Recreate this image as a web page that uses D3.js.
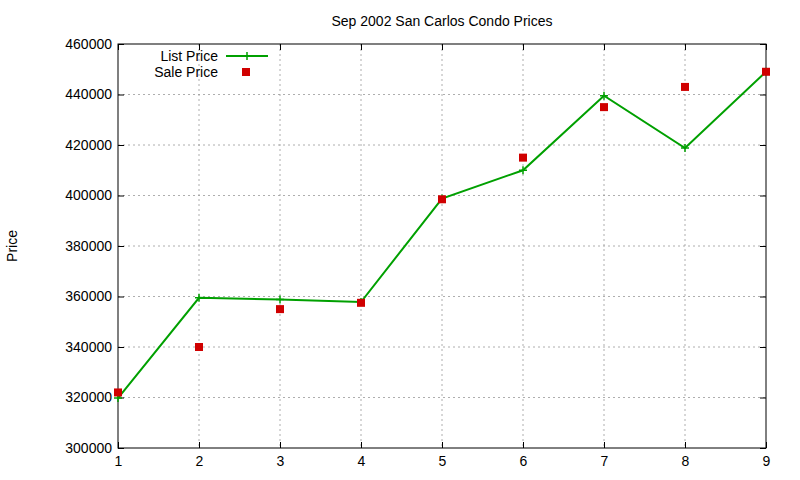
<!DOCTYPE html>
<html>
<head>
<meta charset="utf-8">
<script src="https://cdn.jsdelivr.net/npm/d3@7"></script>
<style>
body { margin: 0; background: #fff; }
text { font-family: "Liberation Sans", Arial, sans-serif; }
</style>
</head>
<body>
<svg id="chart" width="800" height="480"></svg>
<script>
var months = [1, 2, 3, 4, 5, 6, 7, 8, 9];
var listPrice = [319800, 359500, 358800, 357800, 398800, 410000, 439500, 418800, 449000];
var salePrice = [322000, 340000, 355000, 357500, 398500, 415000, 435000, 443000, 449000];
var yTicks = [300000, 320000, 340000, 360000, 380000, 400000, 420000, 440000, 460000];

var svg = d3.select("#chart");
var pLeft = 118, pRight = 766, pTop = 44, pBottom = 448;

var x = d3.scaleLinear().domain([1, 9]).range([pLeft, pRight]);
var y = d3.scaleLinear().domain([300000, 460000]).range([pBottom, pTop]);

// grid
var grid = svg.append("g");
grid.selectAll(".gx").data(months.slice(1, -1)).enter().append("line")
	.attr("x1", function(d) { return x(d); }).attr("x2", function(d) { return x(d); })
	.attr("y1", pTop).attr("y2", pBottom)
	.attr("stroke", "#999").attr("stroke-dasharray", "2,3").attr("stroke-width", 0.8);
grid.selectAll(".gy").data(yTicks.slice(1, -1)).enter().append("line")
	.attr("y1", function(d) { return y(d); }).attr("y2", function(d) { return y(d); })
	.attr("x1", pLeft).attr("x2", pRight)
	.attr("stroke", "#999").attr("stroke-dasharray", "2,3").attr("stroke-width", 0.8);

// axes
var xAxis = svg.append("g").attr("transform", "translate(0," + pBottom + ")")
	.call(d3.axisBottom(x).tickValues(months).tickFormat(d3.format("d")).tickSizeInner(-6).tickSizeOuter(0).tickPadding(8));
var xTop = svg.append("g").attr("transform", "translate(0," + pTop + ")")
	.call(d3.axisTop(x).tickValues(months).tickFormat("").tickSizeInner(-6).tickSizeOuter(0));
var yAxis = svg.append("g").attr("transform", "translate(" + pLeft + ",0)")
	.call(d3.axisLeft(y).tickValues(yTicks).tickFormat(d3.format("d")).tickSizeInner(-6).tickSizeOuter(0).tickPadding(6));
var yRight = svg.append("g").attr("transform", "translate(" + pRight + ",0)")
	.call(d3.axisRight(y).tickValues(yTicks).tickFormat("").tickSizeInner(-6).tickSizeOuter(0));
[xAxis, xTop, yAxis, yRight].forEach(function(a) {
	a.selectAll("text").attr("font-size", 14).attr("fill", "#000");
	a.selectAll("line").attr("stroke", "#000");
	a.select(".domain").remove();
});
svg.append("rect").attr("x", pLeft).attr("y", pTop).attr("width", pRight - pLeft).attr("height", pBottom - pTop)
	.attr("fill", "none").attr("stroke", "#000");

// title and label
svg.append("text").attr("x", 442).attr("y", 26).attr("text-anchor", "middle").attr("font-size", 14).text("Sep 2002 San Carlos Condo Prices");
svg.append("text").attr("transform", "translate(17,246) rotate(-90)").attr("text-anchor", "middle").attr("font-size", 14).text("Price");

// list price line
var green = "#00a000", red = "#d00000";
svg.append("path").datum(months)
	.attr("d", d3.line().x(function(d) { return x(d); }).y(function(d, i) { return y(listPrice[i]); }))
	.attr("fill", "none").attr("stroke", green).attr("stroke-width", 2);
svg.selectAll(".lp").data(months).enter().append("path")
	.attr("d", "M-4,0H4M0,-4V4")
	.attr("transform", function(d, i) { return "translate(" + x(d) + "," + y(listPrice[i]) + ")"; })
	.attr("stroke", green).attr("stroke-width", 1.5);

// sale price points
svg.selectAll(".sp").data(months).enter().append("rect")
	.attr("x", function(d) { return x(d) - 4; })
	.attr("y", function(d, i) { return y(salePrice[i]) - 4; })
	.attr("width", 8).attr("height", 8).attr("fill", red);

// legend
svg.append("text").attr("x", 218).attr("y", 61).attr("text-anchor", "end").attr("font-size", 14).text("List Price");
svg.append("line").attr("x1", 226).attr("x2", 268).attr("y1", 56).attr("y2", 56).attr("stroke", green).attr("stroke-width", 2);
svg.append("path").attr("d", "M-4,0H4M0,-4V4").attr("transform", "translate(247,56)").attr("stroke", green).attr("stroke-width", 1.5);
svg.append("text").attr("x", 218).attr("y", 77).attr("text-anchor", "end").attr("font-size", 14).text("Sale Price");
svg.append("rect").attr("x", 242).attr("y", 68).attr("width", 8).attr("height", 8).attr("fill", red);
</script>
</body>
</html>
